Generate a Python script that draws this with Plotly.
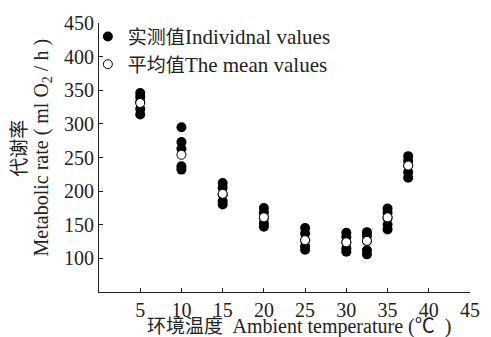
import plotly.graph_objects as go

temps = [5, 10, 15, 20, 25, 30, 32.5, 35, 37.5]
individual = [
    [346, 340, 333, 322, 314],
    [295, 273, 263, 237, 232],
    [212, 205, 195, 185, 180],
    [175, 168, 160, 152, 147],
    [145, 137, 127, 118, 113],
    [138, 132, 124, 115, 110],
    [139, 134, 126, 112, 106],
    [174, 168, 160, 150, 143],
    [252, 245, 238, 228, 220],
]
means = [331, 254, 196, 161, 127, 124, 126, 161, 238]
x_ticks = [5, 10, 15, 20, 25, 30, 35, 40, 45]
y_ticks = [100, 150, 200, 250, 300, 350, 400, 450]

xs, ys = [], []
for t, vals in zip(temps, individual):
    for v in vals:
        xs.append(t)
        ys.append(v)

serif = "Liberation Serif, Noto Sans CJK SC, serif"
EN = '<span style="font-size:21px">%s</span>'

fig = go.Figure()
fig.add_trace(go.Scatter(
    x=xs, y=ys, mode="markers",
    marker=dict(color="black", size=10, line=dict(width=0)),
    name="实测值" + EN % "Individnal values",
))
fig.add_trace(go.Scatter(
    x=temps, y=means, mode="markers",
    marker=dict(color="white", size=9, line=dict(color="black", width=1)),
    name="平均值" + EN % "The mean values",
))

axis_common = dict(
    showgrid=False, zeroline=False, showline=True, linecolor="#222",
    linewidth=1, ticks="inside", ticklen=4, tickcolor="#222",
    tickfont=dict(size=20), automargin=False,
)

# page body has an 8px margin, so the figure is 8px smaller than the window
fig.update_layout(
    width=483, height=329,
    margin=dict(l=91, r=21, t=10, b=45),
    paper_bgcolor="white", plot_bgcolor="white",
    font=dict(family=serif, size=19, color="#222"),
    showlegend=True,
    legend=dict(x=-0.03, y=1.02, xanchor="left", yanchor="top",
                bgcolor="rgba(0,0,0,0)", font=dict(size=19),
                itemwidth=30, tracegroupgap=0),
    xaxis=dict(range=[0, 45], tickvals=x_ticks, **axis_common),
    yaxis=dict(range=[50, 450], tickvals=y_ticks, **axis_common),
    annotations=[
        dict(text="环境温度  " + '<span style="font-size:20px">Ambient temperature (℃  )</span>',
             xref="paper", yref="paper", x=0.539, y=-0.127,
             xanchor="center", yanchor="middle", showarrow=False,
             font=dict(size=19)),
        dict(text="代谢率", xref="paper", yref="paper", x=-0.213, y=0.536,
             xanchor="center", yanchor="middle", textangle=-90,
             showarrow=False, font=dict(size=19)),
        dict(text="Metabolic rate ( ml O<sub>2</sub> / h )",
             xref="paper", yref="paper", x=-0.152, y=0.536,
             xanchor="center", yanchor="middle", textangle=-90,
             showarrow=False, font=dict(size=20)),
    ],
)

fig.write_html("out.html")
